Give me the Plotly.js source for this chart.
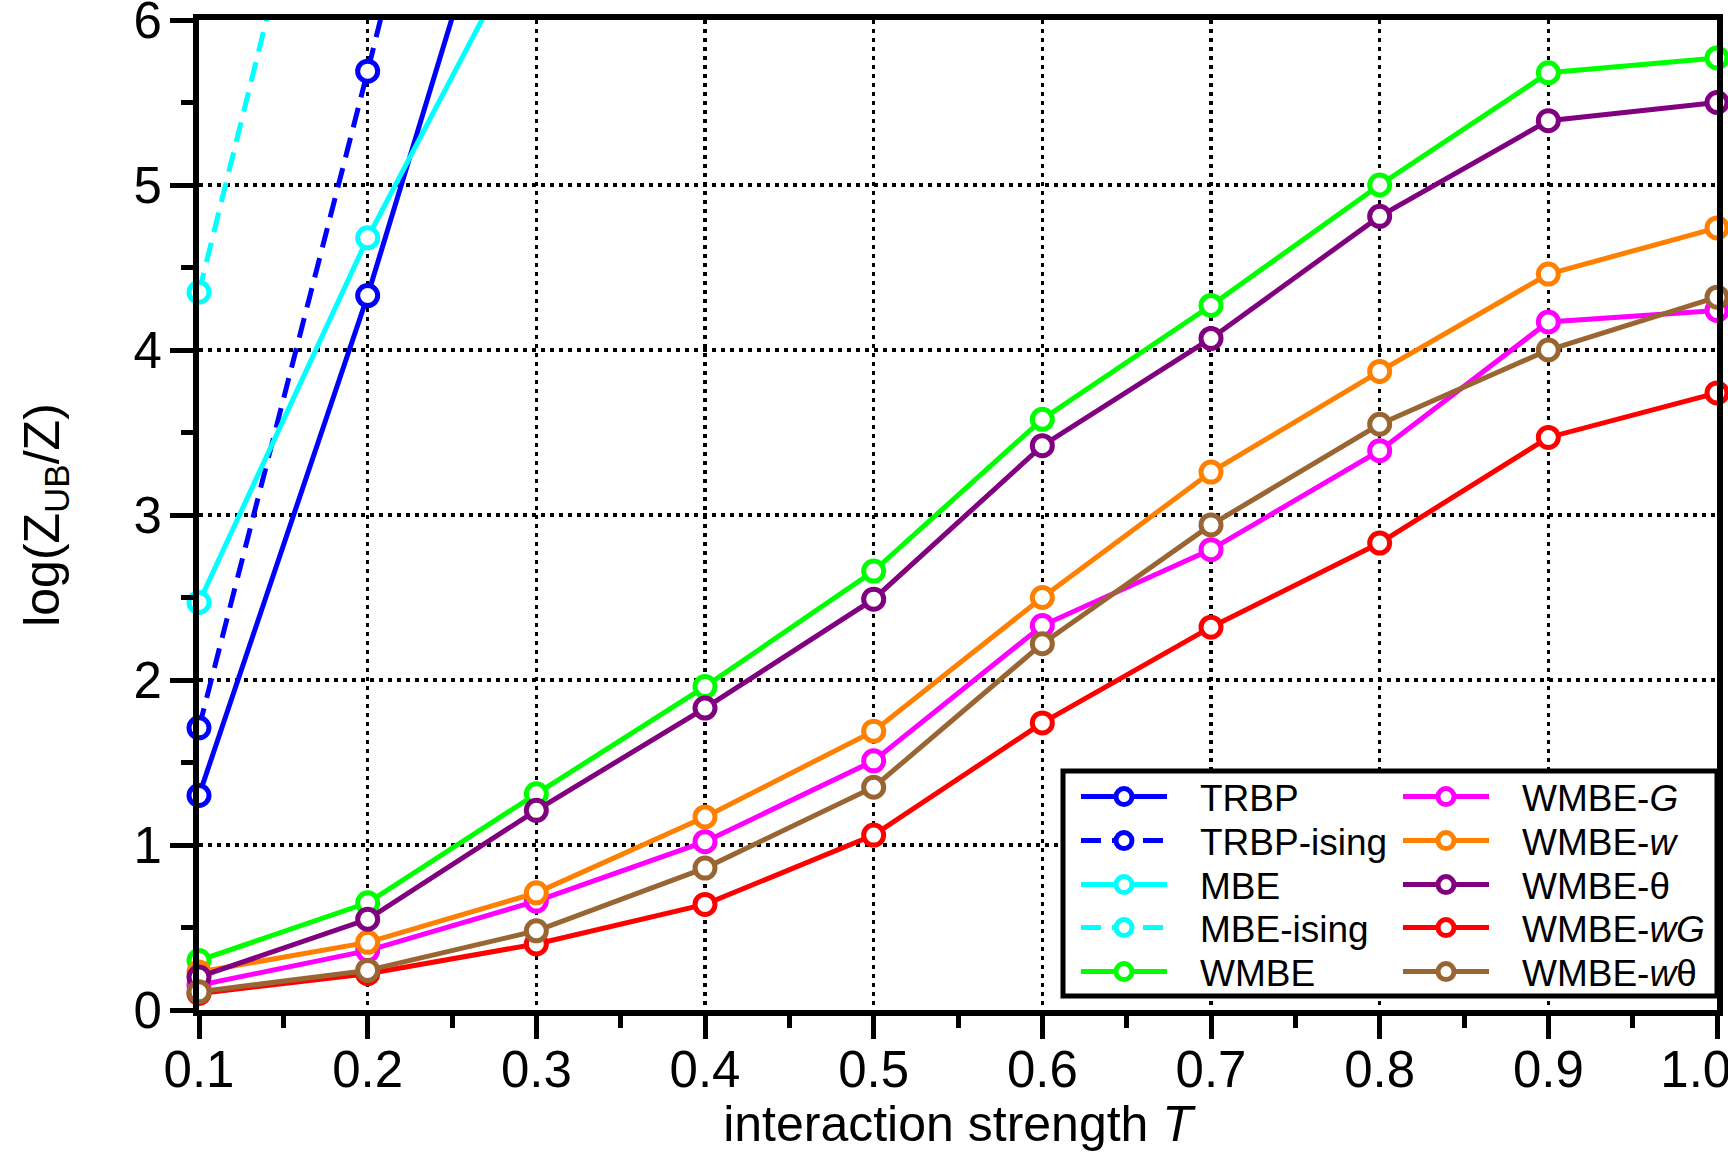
<!DOCTYPE html>
<html>
<head>
<meta charset="utf-8">
<script src="https://cdn.plot.ly/plotly-3.0.1.min.js"></script>
<style>html,body{margin:0;padding:0;background:#fff;}#chart{width:1728px;height:1152px;}</style>
</head>
<body>
<div id="chart"></div>
<script>
// ---- data ----
const T = [0.1, 0.2, 0.3, 0.4, 0.5, 0.6, 0.7, 0.8, 0.9, 1.0];
const xTickLabels = ['0.1','0.2','0.3','0.4','0.5','0.6','0.7','0.8','0.9','1.0\u00A0\u00A0\u00A0'];
const yTickVals = [0, 1, 2, 3, 4, 5, 6];

const seriesNames = ['TRBP', 'TRBP-ising', 'MBE', 'MBE-ising', 'WMBE',
  'WMBE-<i>G</i>', 'WMBE-<i>w</i>', 'WMBE-θ', 'WMBE-<i>wG</i>', 'WMBE-<i>w</i>θ'];

const TRBP       = [1.30, 4.33, 7.69];
const TRBP_ising = [1.71, 5.69, 9.80];
const MBE        = [2.47, 4.68, 6.63];
const MBE_ising  = [4.35, 8.48];
const WMBE       = [0.30, 0.65, 1.31, 1.96, 2.66, 3.58, 4.27, 5.00, 5.68, 5.77];
const WMBE_G     = [0.15, 0.36, 0.66, 1.02, 1.51, 2.33, 2.79, 3.39, 4.17, 4.24];
const WMBE_w     = [0.23, 0.41, 0.71, 1.17, 1.69, 2.50, 3.26, 3.87, 4.46, 4.74];
const WMBE_theta = [0.20, 0.55, 1.21, 1.83, 2.49, 3.42, 4.07, 4.81, 5.39, 5.50];
const WMBE_wG    = [0.10, 0.22, 0.40, 0.64, 1.06, 1.74, 2.32, 2.83, 3.47, 3.74];
const WMBE_wtheta= [0.11, 0.24, 0.48, 0.86, 1.35, 2.22, 2.94, 3.55, 4.00, 4.32];

const seriesValues = [TRBP, TRBP_ising, MBE, MBE_ising, WMBE, WMBE_G, WMBE_w, WMBE_theta, WMBE_wG, WMBE_wtheta];
const colors = ['#0000FF', '#0000FF', '#00FFFF', '#00FFFF', '#00FF00',
  '#FF00FF', '#FF8000', '#800080', '#FF0000', '#996633'];
const dashes = ['solid', '20px,11px', 'solid', '20px,11px', 'solid', 'solid', 'solid', 'solid', 'solid', 'solid'];

// ---- styling ----
const FONT = 'Liberation Sans, Arial, Helvetica, sans-serif';
const plotL = 199, plotR = 1717, plotT = 20, plotB = 1010;
const rowCentersPx = [797, 841, 885, 928, 972];
const colLeftPx = [1076, 1398];
const NB = '\u00A0\u00A0\u2009';

const traces = [];
const axisCommon = {
  ticks: 'outside', ticklen: 23, tickwidth: 5, tickcolor: '#000',
  showline: true, linewidth: 6, linecolor: '#000', mirror: true,
  showgrid: true, gridcolor: '#000', gridwidth: 3.5, griddash: '3.5px,5.5px',
  zeroline: false, ticklabeloverflow: 'allow',
  tickfont: {family: FONT, size: 51, color: '#000'}
};
const layout = {
  width: 1728, height: 1152,
  margin: {l: plotL, r: 1728 - plotR, t: plotT, b: 1152 - plotB, autoexpand: false},
  paper_bgcolor: '#fff', plot_bgcolor: '#fff',
  font: {family: FONT, color: '#000', size: 48},
  showlegend: true,
  xaxis: Object.assign({}, axisCommon, {
    range: [0.1, 1.0], tickvals: T, ticktext: xTickLabels,
    ticklabelstandoff: -13,
    minor: {dtick: 0.05, tick0: 0.1, ticks: 'outside', ticklen: 12, tickwidth: 5, tickcolor: '#000', showgrid: false},
    title: {text: 'interaction strength <i>T</i>', font: {family: FONT, size: 50, color: '#000'}, standoff: 22}
  }),
  yaxis: Object.assign({}, axisCommon, {
    range: [0, 6], tickvals: yTickVals,
    ticklabelstandoff: -2,
    minor: {dtick: 0.5, tick0: 0, ticks: 'outside', ticklen: 12, tickwidth: 5, tickcolor: '#000', showgrid: false},
    title: {text: 'log(Z<sub>UB</sub>/Z)', font: {family: FONT, size: 50, color: '#000'}, standoff: 60}
  }),
  shapes: [{
    type: 'rect', xref: 'paper', yref: 'paper', layer: 'above',
    x0: (1063 - plotL) / (plotR - plotL), x1: 1.0,
    y0: (plotB - 996) / (plotB - plotT), y1: (plotB - 771) / (plotB - plotT),
    line: {color: '#000', width: 5}, fillcolor: '#fff'
  }]
};

seriesValues.forEach((vals, i) => {
  const legendId = i === 0 ? 'legend' : 'legend' + (i + 1);
  traces.push({
    type: 'scatter', mode: 'lines+markers',
    name: NB + seriesNames[i],
    x: T.slice(0, vals.length), y: vals,
    line: {color: colors[i], width: 5, dash: dashes[i]},
    marker: {symbol: 'circle', size: 20, color: '#fff', line: {color: colors[i], width: 5}},
    cliponaxis: false,
    legend: legendId
  });
  const col = Math.floor(i / 5), row = i % 5;
  layout[legendId] = {
    x: (colLeftPx[col] - plotL) / (plotR - plotL),
    y: (plotB - rowCentersPx[row]) / (plotB - plotT),
    xanchor: 'left', yanchor: 'middle',
    bgcolor: 'rgba(0,0,0,0)', borderwidth: 0,
    font: {family: FONT, size: 37, color: '#000'},
    itemwidth: 86
  };
});

Plotly.newPlot('chart', traces, layout, {displayModeBar: false, staticPlot: true});
</script>
</body>
</html>
